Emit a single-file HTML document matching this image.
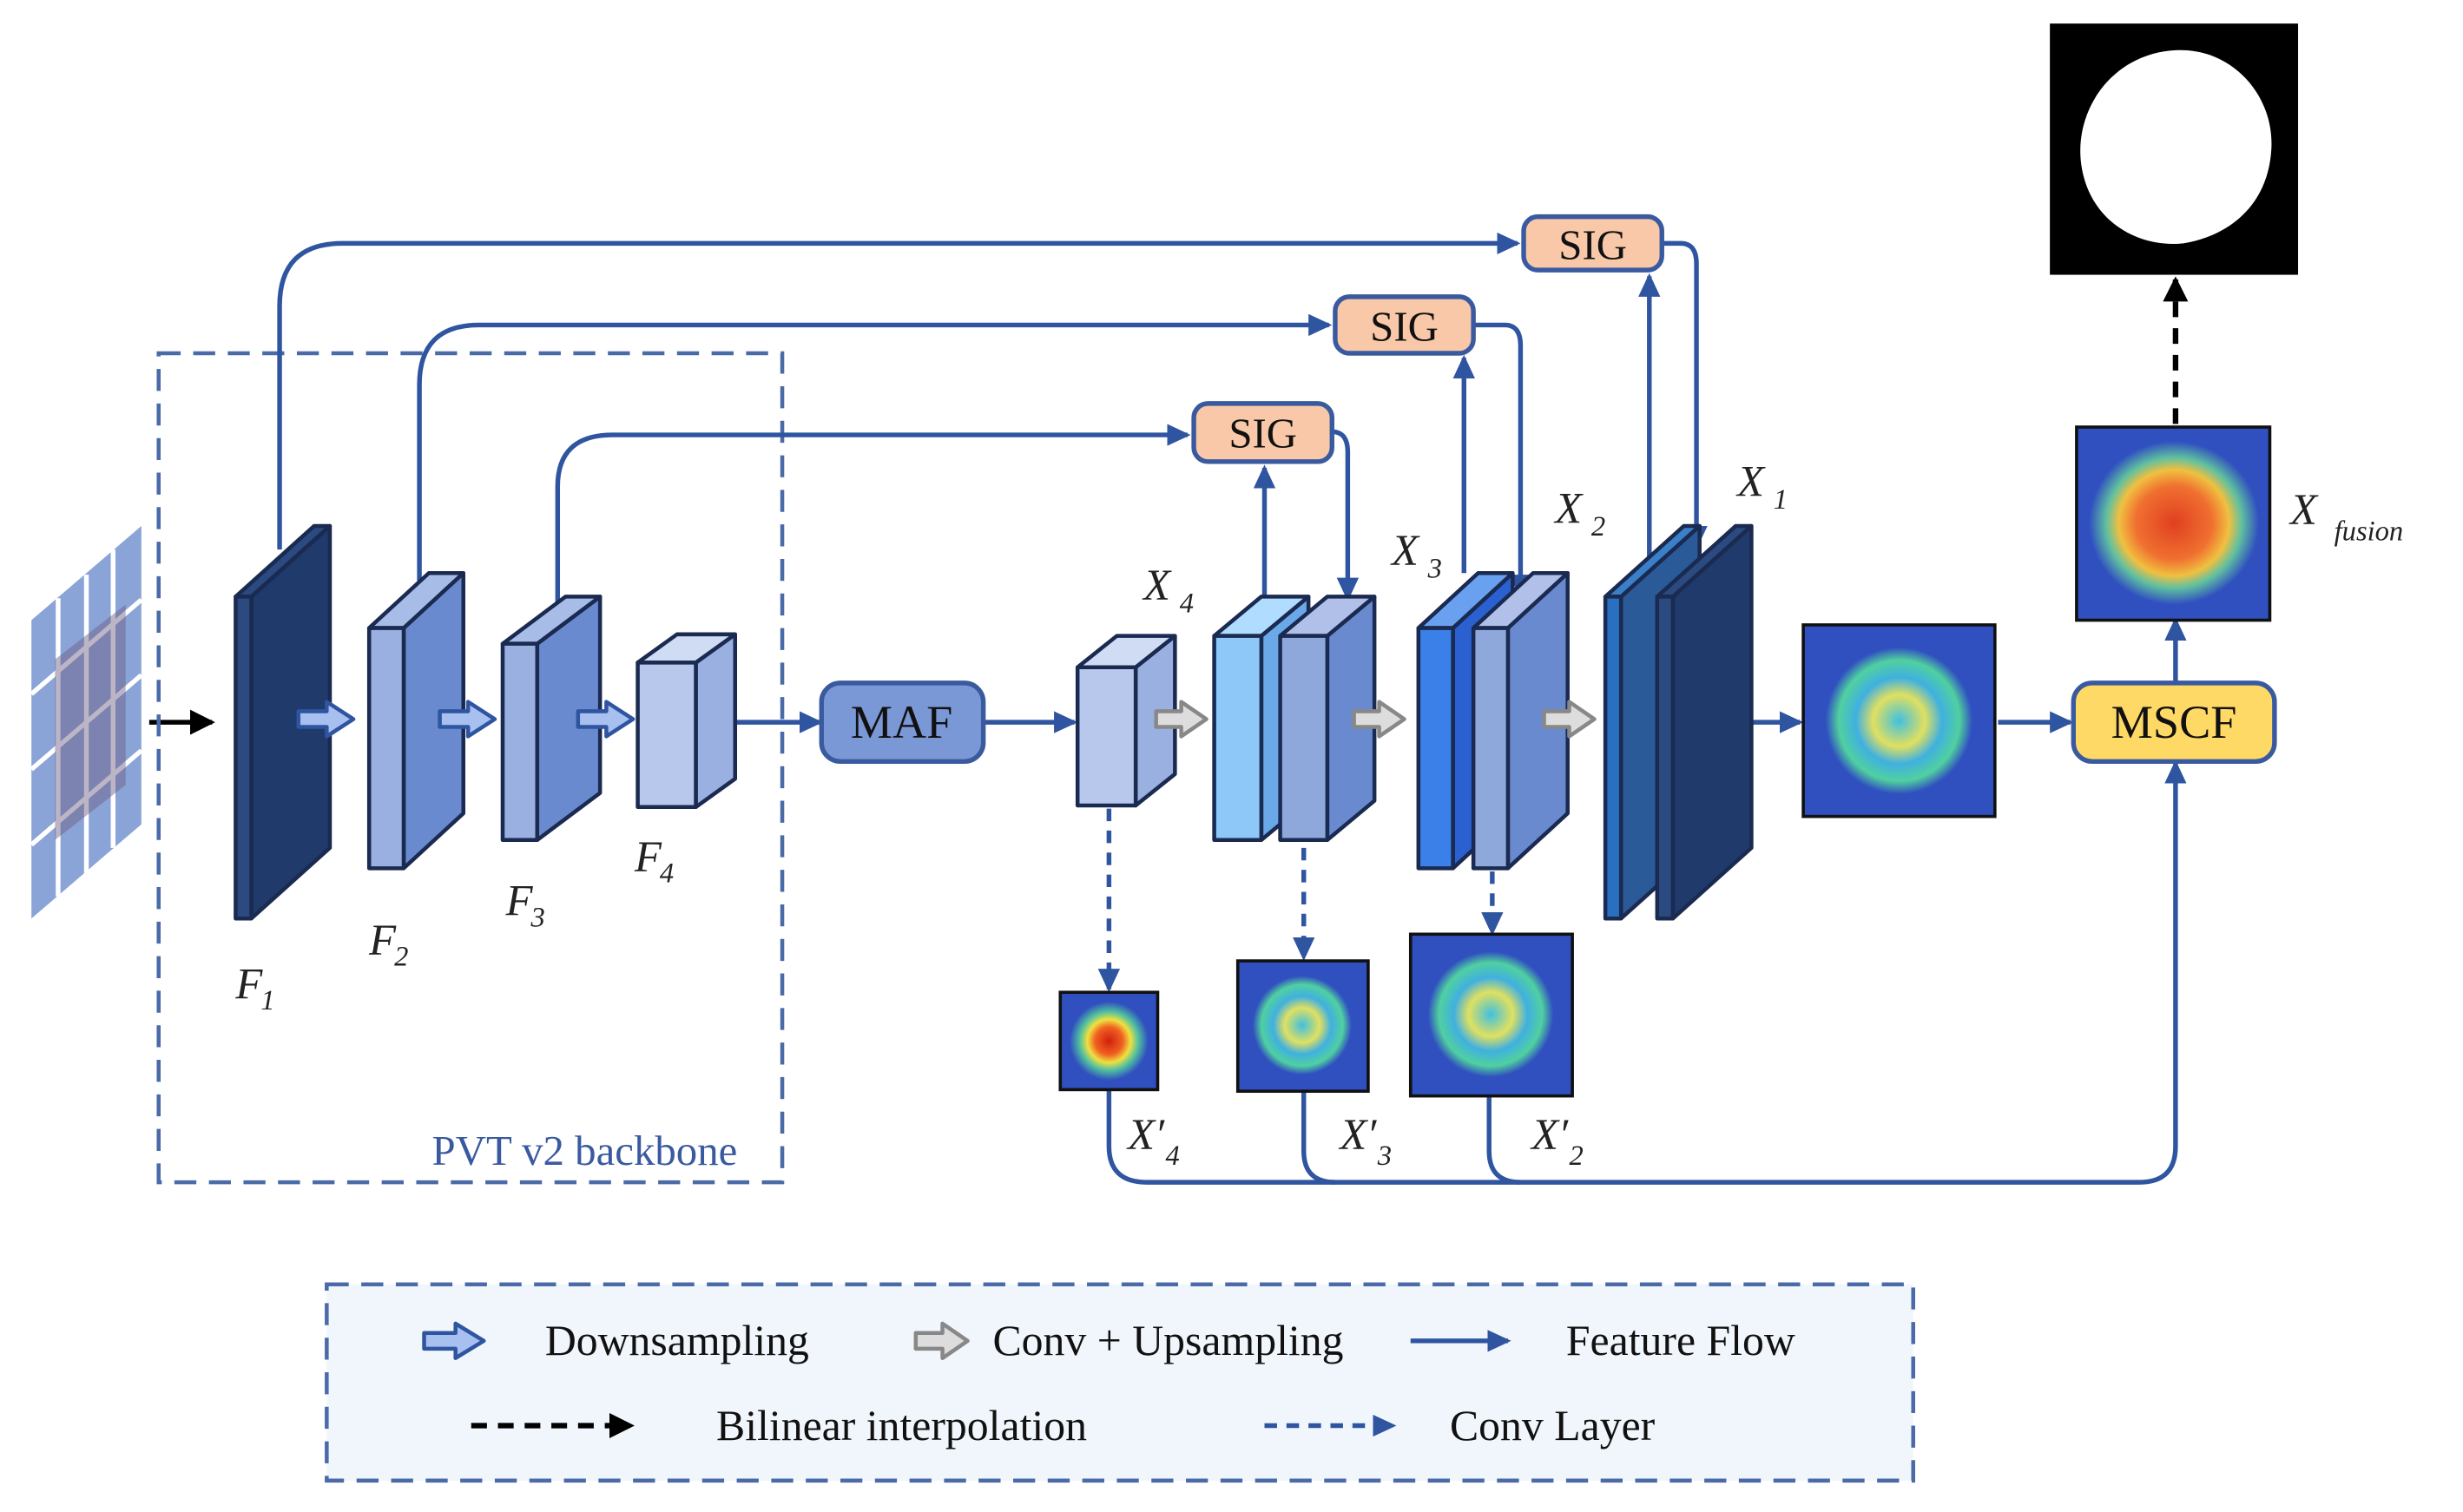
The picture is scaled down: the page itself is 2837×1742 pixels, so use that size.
<!DOCTYPE html>
<html><head><meta charset="utf-8"><style>
html,body{margin:0;padding:0;background:#fff}
svg{display:block}
text{font-family:"Liberation Serif",serif}
.lab{font-style:italic;font-size:28px;fill:#222}
.sub{font-style:italic;font-size:18px;fill:#222}
</style></head><body>
<svg width="2837" height="1742" viewBox="0 0 1568 963" preserveAspectRatio="none" xmlns="http://www.w3.org/2000/svg">
<defs>
<marker id="ab" markerWidth="15" markerHeight="14" refX="13" refY="7" orient="auto" markerUnits="userSpaceOnUse"><path d="M0,0 L15,7 L0,14 z" fill="#2f55a0"/></marker>
<marker id="ak" markerWidth="16" markerHeight="16" refX="14" refY="8" orient="auto" markerUnits="userSpaceOnUse"><path d="M0,0 L16,8 L0,16 z" fill="#000"/></marker>
<radialGradient id="hm1"><stop offset="0" stop-color="#d02010"/><stop offset="0.35" stop-color="#f06020"/><stop offset="0.55" stop-color="#f0e040"/><stop offset="0.75" stop-color="#50c0a0"/><stop offset="1" stop-color="#3050c0"/></radialGradient>
<radialGradient id="hm2"><stop offset="0" stop-color="#40c0e0"/><stop offset="0.3" stop-color="#e0e060"/><stop offset="0.5" stop-color="#40b0e0"/><stop offset="0.7" stop-color="#50d0a0"/><stop offset="0.85" stop-color="#3050c0"/><stop offset="1" stop-color="#3050c0"/></radialGradient>
<radialGradient id="hm3"><stop offset="0" stop-color="#e04020"/><stop offset="0.45" stop-color="#f07030"/><stop offset="0.65" stop-color="#f0c040"/><stop offset="0.8" stop-color="#60c0a0"/><stop offset="1" stop-color="#3050c0"/></radialGradient>
</defs>

<!-- legend background -->
<rect x="208" y="818" width="1010" height="125" fill="#f0f6fb" stroke="#4a6aa8" stroke-width="2.5" stroke-dasharray="14,8"/>

<!-- input image -->
<g>
<polygon points="20,395 90,335 90,525 20,585" fill="#8aa4d8"/>
<g stroke="#fff" stroke-width="3">
<line x1="37" y1="381" x2="37" y2="571"/><line x1="55" y1="366" x2="55" y2="556"/><line x1="72" y1="350" x2="72" y2="540"/>
<line x1="20" y1="442" x2="90" y2="382"/><line x1="20" y1="490" x2="90" y2="430"/><line x1="20" y1="538" x2="90" y2="478"/>
</g>
<polygon points="35,420 80,385 80,500 35,535" fill="#6a5a80" opacity="0.45"/>
</g>
<line x1="95" y1="460" x2="135" y2="460" stroke="#000" stroke-width="3" marker-end="url(#ak)"/>

<!-- backbone -->
<rect x="101" y="225" width="397" height="528" fill="none" stroke="#4a6aa8" stroke-width="2.5" stroke-dasharray="14,8"/>
<text x="275" y="742" font-size="27" fill="#3a5aa0">PVT v2 backbone</text>

<!-- skip lines -->
<g fill="none" stroke="#2f55a0" stroke-width="3">
<path d="M178,350 V195 Q178,155 218,155 H966" marker-end="url(#ab)"/>
<path d="M267,370 V245 Q267,207 305,207 H846" marker-end="url(#ab)"/>
<path d="M355,385 V310 Q355,277 390,277 H756" marker-end="url(#ab)"/>
<path d="M1058,155 H1070 Q1080,155 1080,168 V348" marker-end="url(#ab)"/>
<path d="M938,207 H958 Q968,207 968,220 V379" marker-end="url(#ab)"/>
<path d="M848,275 Q858,275 858,288 V381" marker-end="url(#ab)"/>
<path d="M805,380 V298" marker-end="url(#ab)"/>
<path d="M932,365 V228" marker-end="url(#ab)"/>
<path d="M1050,355 V176" marker-end="url(#ab)"/>
<path d="M458,460 H522" marker-end="url(#ab)"/>
<path d="M626,460 H684" marker-end="url(#ab)"/>
<path d="M1085,460 H1146" marker-end="url(#ab)"/>
<path d="M1272,460 H1318" marker-end="url(#ab)"/>
<path d="M1385,435 V395" marker-end="url(#ab)"/>
<path d="M706,694 V730 Q706,753 730,753 H1362 Q1385,753 1385,730 V486" marker-end="url(#ab)"/>
<path d="M830,695 V733 Q830,753 850,753"/>
<path d="M948,698 V733 Q948,753 968,753"/>
</g>
<g fill="none" stroke="#2f55a0" stroke-width="3" stroke-dasharray="8,6">
<path d="M706,515 V630" marker-end="url(#ab)"/>
<path d="M830,540 V610" marker-end="url(#ab)"/>
<path d="M950,555 V594" marker-end="url(#ab)"/>
</g>
<line x1="1385" y1="270" x2="1385" y2="178" stroke="#000" stroke-width="3.5" stroke-dasharray="10,7" marker-end="url(#ak)"/>

<!-- cuboids -->
<g stroke="#1a2a50" stroke-width="2.5" stroke-linejoin="round">
<polygon points="160,380 210,335 210,540 160,585" fill="#1f3a6b"/><polygon points="150,380 160,380 210,335 200,335" fill="#2a4a80"/><rect x="150" y="380" width="10" height="205" fill="#2a4a80"/>
<polygon points="257,400 295,365 295,518 257,553" fill="#6a8ad0"/><polygon points="235,400 257,400 295,365 273,365" fill="#a8bce8"/><rect x="235" y="400" width="22" height="153" fill="#9ab0e0"/>
<polygon points="342,410 382,380 382,505 342,535" fill="#6a8ad0"/><polygon points="320,410 342,410 382,380 360,380" fill="#a8bce8"/><rect x="320" y="410" width="22" height="125" fill="#9ab0e0"/>
<polygon points="443,422 468,404 468,496 443,514" fill="#9ab0e0"/><polygon points="406,422 443,422 468,404 431,404" fill="#d0dcf4"/><rect x="406" y="422" width="37" height="92" fill="#b8c8ec"/>
<polygon points="723,425 748,405 748,493 723,513" fill="#9ab0e0"/><polygon points="686,425 723,425 748,405 711,405" fill="#d0dcf4"/><rect x="686" y="425" width="37" height="88" fill="#b8c8ec"/>
<polygon points="803,405 833,380 833,510 803,535" fill="#6aa8e8"/><polygon points="773,405 803,405 833,380 803,380" fill="#b0dcff"/><rect x="773" y="405" width="30" height="130" fill="#8ec8f8"/>
<polygon points="845,405 875,380 875,510 845,535" fill="#6a8ad0"/><polygon points="815,405 845,405 875,380 845,380" fill="#b0c0e8"/><rect x="815" y="405" width="30" height="130" fill="#8fa8dc"/>
<polygon points="925,400 963,365 963,518 925,553" fill="#2a60d0"/><polygon points="903,400 925,400 963,365 941,365" fill="#6aa0f0"/><rect x="903" y="400" width="22" height="153" fill="#3a80e8"/>
<polygon points="960,400 998,365 998,518 960,553" fill="#6a8ad0"/><polygon points="938,400 960,400 998,365 976,365" fill="#b0c0e8"/><rect x="938" y="400" width="22" height="153" fill="#8fa8dc"/>
<polygon points="1032,380 1082,335 1082,540 1032,585" fill="#2a5a98"/><polygon points="1022,380 1032,380 1082,335 1072,335" fill="#3a80c8"/><rect x="1022" y="380" width="10" height="205" fill="#2a70c0"/>
<polygon points="1065,380 1115,335 1115,540 1065,585" fill="#1f3a6b"/><polygon points="1055,380 1065,380 1115,335 1105,335" fill="#2a4a80"/><rect x="1055" y="380" width="10" height="205" fill="#2a4a80"/>
</g>

<!-- hollow arrows -->
<g stroke-width="2.5" stroke-linejoin="round">
<g fill="#a8c0f0" stroke="#2f55a0">
<polygon points="190,453 208,453 208,447 225,458 208,469 208,463 190,463"/>
<polygon points="280,453 298,453 298,447 315,458 298,469 298,463 280,463"/>
<polygon points="368,453 386,453 386,447 403,458 386,469 386,463 368,463"/>
<polygon points="270,849 290,849 290,843 308,854 290,865 290,859 270,859"/>
</g>
<g fill="#ddd" stroke="#888">
<polygon points="736,453 752,453 752,447 768,458 752,469 752,463 736,463"/>
<polygon points="862,453 878,453 878,447 894,458 878,469 878,463 862,463"/>
<polygon points="983,453 999,453 999,447 1015,458 999,469 999,463 983,463"/>
<polygon points="583,849 600,849 600,843 616,854 600,865 600,859 583,859"/>
</g>
</g>

<!-- boxes -->
<rect x="523" y="435" width="103" height="50" rx="12" fill="#7a98d6" stroke="#3a5aa0" stroke-width="3"/>
<text x="574" y="470" font-size="30" text-anchor="middle" fill="#111">MAF</text>
<rect x="1320" y="435" width="128" height="50" rx="12" fill="#ffd966" stroke="#3a5aa0" stroke-width="3"/>
<text x="1384" y="470" font-size="30" text-anchor="middle" fill="#111">MSCF</text>
<g fill="#f8c8a8" stroke="#3a5aa0" stroke-width="3">
<rect x="970" y="138" width="88" height="34" rx="9"/>
<rect x="850" y="189" width="88" height="36" rx="9"/>
<rect x="760" y="257" width="88" height="37" rx="9"/>
</g>
<g font-size="27" text-anchor="middle" fill="#111">
<text x="1014" y="165">SIG</text><text x="894" y="217">SIG</text><text x="804" y="285">SIG</text>
</g>

<!-- heatmaps -->
<rect x="1148" y="398" width="122" height="122" fill="#3050c0" stroke="#111" stroke-width="2"/>
<circle cx="1209" cy="459" r="55" fill="url(#hm2)"/>
<rect x="1322" y="272" width="123" height="123" fill="#3050c0" stroke="#111" stroke-width="2"/>
<ellipse cx="1384" cy="333" rx="54" ry="52" fill="url(#hm3)"/>
<rect x="675" y="632" width="62" height="62" fill="#3050c0" stroke="#111" stroke-width="2"/>
<circle cx="706" cy="663" r="25" fill="url(#hm1)"/>
<rect x="788" y="612" width="83" height="83" fill="#3050c0" stroke="#111" stroke-width="2"/>
<circle cx="829" cy="653" r="37" fill="url(#hm2)"/>
<rect x="898" y="595" width="103" height="103" fill="#3050c0" stroke="#111" stroke-width="2"/>
<circle cx="949" cy="646" r="47" fill="url(#hm2)"/>

<!-- output -->
<rect x="1305" y="15" width="158" height="160" fill="#000"/>
<path d="M1385,32 C1420,30 1448,60 1446,95 C1444,130 1420,150 1390,155 C1360,158 1330,140 1325,105 C1320,70 1345,34 1385,32 z" fill="#fff"/>

<!-- labels -->
<text x="150" y="636" class="lab">F</text><text x="166" y="643" class="sub">1</text>
<text x="235" y="608" class="lab">F</text><text x="251" y="615" class="sub">2</text>
<text x="322" y="583" class="lab">F</text><text x="338" y="590" class="sub">3</text>
<text x="404" y="555" class="lab">F</text><text x="420" y="562" class="sub">4</text>
<text x="728" y="382" class="lab">X</text><text x="751" y="390" class="sub">4</text>
<text x="886" y="360" class="lab">X</text><text x="909" y="368" class="sub">3</text>
<text x="990" y="333" class="lab">X</text><text x="1013" y="341" class="sub">2</text>
<text x="1106" y="316" class="lab">X</text><text x="1129" y="324" class="sub">1</text>
<text x="1458" y="334" class="lab">X</text><text x="1486" y="344" class="sub">fusion</text>
<text x="718" y="732" class="lab">X′</text><text x="742" y="742" class="sub">4</text>
<text x="853" y="732" class="lab">X′</text><text x="877" y="742" class="sub">3</text>
<text x="975" y="732" class="lab">X′</text><text x="999" y="742" class="sub">2</text>

<!-- legend -->
<g font-size="27.5" fill="#111">
<text x="347" y="863">Downsampling</text>
<text x="632" y="863">Conv + Upsampling</text>
<text x="997" y="863">Feature Flow</text>
<text x="456" y="917">Bilinear interpolation</text>
<text x="923" y="917">Conv Layer</text>
</g>
<line x1="898" y1="854" x2="960" y2="854" stroke="#2f55a0" stroke-width="3" marker-end="url(#ab)"/>
<line x1="300" y1="908" x2="402" y2="908" stroke="#000" stroke-width="3.5" stroke-dasharray="10,7" marker-end="url(#ak)"/>
<line x1="805" y1="908" x2="887" y2="908" stroke="#2f55a0" stroke-width="3" stroke-dasharray="8,6" marker-end="url(#ab)"/>
</svg>
</body></html>
